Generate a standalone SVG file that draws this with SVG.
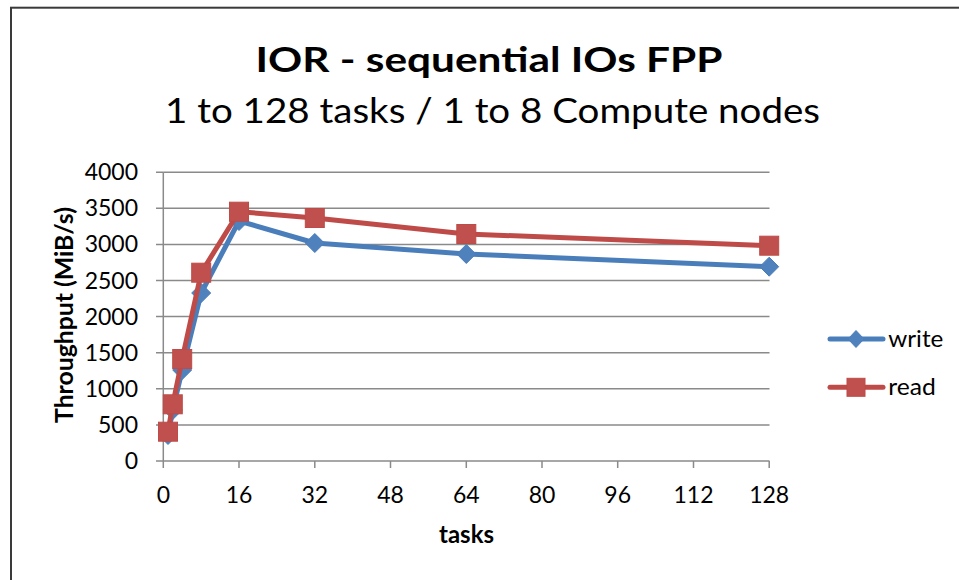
<svg xmlns="http://www.w3.org/2000/svg" xmlns:xlink="http://www.w3.org/1999/xlink" width="959" height="580" viewBox="0 0 959 580">
<style>
.grid{stroke:#8a8a8a;stroke-width:1.5;fill:none}
.axis{stroke:#8a8a8a;stroke-width:1.5;fill:none}
.tick{font-family:Lato,"Liberation Sans",sans-serif;font-size:23px;fill:#000}
.yl{text-anchor:end}
.xl{text-anchor:middle}
.ttl{font-family:Lato,"Liberation Sans",sans-serif;fill:#000}
.wl{stroke:#4A7EBB;stroke-width:5;fill:none;stroke-linejoin:round;stroke-linecap:round}
.rl{stroke:#BE4B48;stroke-width:5;fill:none;stroke-linejoin:round;stroke-linecap:round}
.wm{fill:#4F81BD;stroke:#4A7EBB;stroke-width:1}
.rm{fill:#C0504D;stroke:#BE4B48;stroke-width:1}
</style>
<defs>
<path id="dia" d="M0,-9.5 L9.5,0 L0,9.5 L-9.5,0Z"/>
<path id="diaS" d="M0,-8.5 L8,0 L0,8.5 L-8,0Z"/>
<rect id="sq" x="-9.5" y="-9.5" width="19" height="19"/>
<rect id="sqS" x="-9" y="-9" width="18" height="18"/>
</defs>
<rect x="0" y="0" width="959" height="580" fill="#fff"/>
<rect id="frame" x="11" y="7.7" width="960" height="590" fill="#fff" stroke="#3a3a3a" stroke-width="2"/>

<g id="titles">
<text class="ttl" x="489" y="71.7" font-size="35" font-weight="bold" text-anchor="middle" textLength="467" lengthAdjust="spacingAndGlyphs">IOR - sequential IOs FPP</text>
<text class="ttl" x="492.5" y="123.3" font-size="35" text-anchor="middle" textLength="655" lengthAdjust="spacingAndGlyphs">1 to 128 tasks / 1 to 8 Compute nodes</text>
</g>

<g id="gridlines">
<line class="grid" x1="163.3" y1="172.2" x2="769.5" y2="172.2"/>
<line class="grid" x1="163.3" y1="208.3" x2="769.5" y2="208.3"/>
<line class="grid" x1="163.3" y1="244.4" x2="769.5" y2="244.4"/>
<line class="grid" x1="163.3" y1="280.5" x2="769.5" y2="280.5"/>
<line class="grid" x1="163.3" y1="316.6" x2="769.5" y2="316.6"/>
<line class="grid" x1="163.3" y1="352.7" x2="769.5" y2="352.7"/>
<line class="grid" x1="163.3" y1="388.8" x2="769.5" y2="388.8"/>
<line class="grid" x1="163.3" y1="424.9" x2="769.5" y2="424.9"/>
</g>

<g id="axes">
<line class="axis" x1="163.3" y1="172.2" x2="163.3" y2="468"/>
<line class="axis" x1="156" y1="461" x2="769.5" y2="461"/>
<path class="axis" d="M156,172.2H163.3M156,208.3H163.3M156,244.4H163.3M156,280.5H163.3M156,316.6H163.3M156,352.7H163.3M156,388.8H163.3M156,424.9H163.3"/>
<path class="axis" d="M239,461V468M314.8,461V468M390.5,461V468M466.3,461V468M542,461V468M617.7,461V468M693.5,461V468M769.2,461V468"/>
</g>

<g id="ylabels" class="tick yl">
<text x="138" y="180.2">4000</text>
<text x="138" y="216.3">3500</text>
<text x="138" y="252.4">3000</text>
<text x="138" y="288.5">2500</text>
<text x="138" y="324.6">2000</text>
<text x="138" y="360.7">1500</text>
<text x="138" y="396.8">1000</text>
<text x="138" y="432.9">500</text>
<text x="138" y="469">0</text>
</g>

<g id="xlabels" class="tick xl">
<text x="163.3" y="503">0</text>
<text x="239" y="503">16</text>
<text x="314.8" y="503">32</text>
<text x="390.5" y="503">48</text>
<text x="466.3" y="503">64</text>
<text x="542" y="503">80</text>
<text x="617.7" y="503">96</text>
<text x="693.5" y="503">112</text>
<text x="769.2" y="503">128</text>
</g>

<g id="axis-titles">
<text class="ttl" x="466.5" y="543" font-size="24" font-weight="bold" text-anchor="middle" textLength="55" lengthAdjust="spacingAndGlyphs">tasks</text>
<text class="ttl" transform="translate(72.5,315) rotate(-90)" x="0" y="0" font-size="25" font-weight="bold" text-anchor="middle" textLength="216" lengthAdjust="spacingAndGlyphs">Throughput (MiB/s)</text>
</g>

<g id="series-write">
<polyline class="wl" points="168,435 172.8,410 182.2,370 201.2,293 239,221 314.8,243 466.3,254 769.2,266.7"/>
<use xlink:href="#dia" class="wm" x="168" y="435"/>
<use xlink:href="#dia" class="wm" x="172.8" y="410"/>
<use xlink:href="#dia" class="wm" x="182.2" y="370"/>
<use xlink:href="#dia" class="wm" x="201.2" y="293"/>
<use xlink:href="#dia" class="wm" x="239" y="221"/>
<use xlink:href="#dia" class="wm" x="314.8" y="243"/>
<use xlink:href="#dia" class="wm" x="466.3" y="254"/>
<use xlink:href="#dia" class="wm" x="769.2" y="266.7"/>
</g>

<g id="series-read">
<polyline class="rl" points="168,431.7 172.8,404.3 182.2,359 201.2,272.7 239,211.7 314.8,218 466.3,234 769.2,245.7"/>
<use xlink:href="#sq" class="rm" x="168" y="431.7"/>
<use xlink:href="#sq" class="rm" x="172.8" y="404.3"/>
<use xlink:href="#sq" class="rm" x="182.2" y="359"/>
<use xlink:href="#sq" class="rm" x="201.2" y="272.7"/>
<use xlink:href="#sq" class="rm" x="239" y="211.7"/>
<use xlink:href="#sq" class="rm" x="314.8" y="218"/>
<use xlink:href="#sq" class="rm" x="466.3" y="234"/>
<use xlink:href="#sq" class="rm" x="769.2" y="245.7"/>
</g>

<g id="legend">
<g id="legend-write">
<line class="wl" x1="830" y1="339" x2="883" y2="339"/>
<use xlink:href="#diaS" class="wm" x="856" y="339"/>
<text class="tick" x="888.3" y="346.7" textLength="55" lengthAdjust="spacingAndGlyphs">write</text>
</g>
<g id="legend-read">
<line class="rl" x1="830" y1="387.3" x2="883" y2="387.3"/>
<use xlink:href="#sqS" class="rm" x="856" y="387.3"/>
<text class="tick" x="888.3" y="395" textLength="47.5" lengthAdjust="spacingAndGlyphs">read</text>
</g>
</g>
</svg>
